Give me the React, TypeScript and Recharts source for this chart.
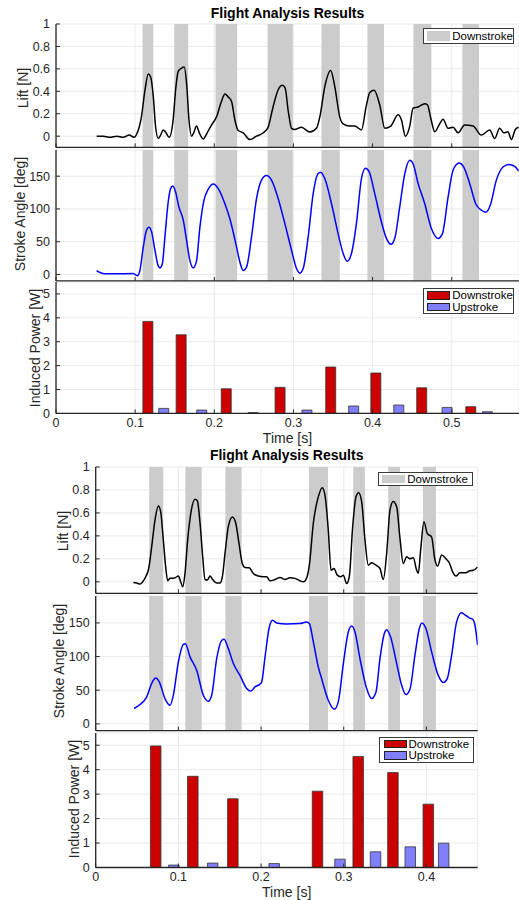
import React from 'react';
import { ComposedChart, Line, Bar, XAxis, YAxis, CartesianGrid, ReferenceArea } from 'recharts';

// ---------- Figure 1 data ----------
const f1LiftTime = [
  0.0514, 0.0598, 0.068, 0.077, 0.085, 0.0926, 0.0985, 0.1027, 0.108, 0.1124,
  0.1166, 0.1195, 0.1229, 0.1258, 0.1292, 0.1322, 0.1355, 0.139, 0.143, 0.148,
  0.1515, 0.1544, 0.1587, 0.162, 0.165, 0.168, 0.1713, 0.174, 0.1776, 0.181,
  0.186, 0.191, 0.1966, 0.203, 0.209, 0.2134, 0.2176, 0.2218, 0.226, 0.2302,
  0.2365, 0.245, 0.2534, 0.262, 0.268, 0.2744, 0.2807, 0.286, 0.2895, 0.2935,
  0.2976, 0.3015, 0.31, 0.3207, 0.329, 0.3333, 0.3396, 0.347, 0.3523, 0.3586,
  0.3628, 0.3712, 0.3775, 0.386, 0.3919, 0.3965, 0.4019, 0.409, 0.4154, 0.423,
  0.4322, 0.4364, 0.4415, 0.447, 0.4512, 0.4575, 0.466, 0.4693, 0.474, 0.4785,
  0.4848, 0.489, 0.4954, 0.5017, 0.508, 0.5164, 0.527, 0.5375, 0.548, 0.5543,
  0.5606, 0.566, 0.5711, 0.5754, 0.5804, 0.5845,
];
const f1Lift = [
  0, 0, -0.01, 0, -0.01, 0.01, -0.01, 0.03, 0.175, 0.41,
  0.555, 0.53, 0.354, 0.086, -0.02, 0.01, 0.056, 0.03, -0.01, 0.145,
  0.44, 0.577, 0.607, 0.616, 0.47, 0.146, 0, 0.03, 0.09, 0.03,
  -0.025, 0.03, 0.1, 0.175, 0.31, 0.377, 0.35, 0.31, 0.146, 0.05,
  0.03, -0.03, 0, 0.03, 0.08, 0.265, 0.414, 0.455, 0.43, 0.22,
  0.07, 0.06, 0.08, 0.037, 0.07, 0.17, 0.44, 0.585, 0.44, 0.17,
  0.11, 0.09, 0.09, 0.056, 0.265, 0.39, 0.41, 0.28, 0.07, 0.09,
  0.19, 0.146, 0.0, 0.09, 0.25, 0.26, 0.29, 0.28, 0.146, 0.04,
  0.11, 0.15, 0.07, 0.08, 0.03, 0.1, 0.09, 0.01, 0.056, -0.02,
  0.07, 0.03, 0.04, -0.03, 0.06, 0.08,
];
const f1AngleTime = [
  0.0513, 0.0556, 0.0619, 0.0766, 0.0976, 0.0997, 0.1031, 0.106, 0.1103, 0.1145,
  0.1174, 0.1208, 0.125, 0.1284, 0.1313, 0.1343, 0.1376, 0.1418, 0.1448, 0.1477,
  0.1511, 0.1553, 0.1608, 0.165, 0.1692, 0.1734, 0.1776, 0.1818, 0.1869, 0.1923,
  0.1987, 0.205, 0.2134, 0.2197, 0.2281, 0.2323, 0.2365, 0.2407, 0.247, 0.2534,
  0.2597, 0.266, 0.2723, 0.2807, 0.2891, 0.2976, 0.3039, 0.3081, 0.3123, 0.3186,
  0.3249, 0.3312, 0.3342, 0.3397, 0.3481, 0.3565, 0.3628, 0.3679, 0.3733, 0.3796,
  0.3859, 0.391, 0.3956, 0.4028, 0.4112, 0.4175, 0.423, 0.428, 0.4343, 0.4407,
  0.447, 0.4512, 0.4575, 0.4659, 0.4743, 0.4827, 0.4882, 0.4954, 0.5017, 0.5093,
  0.5152, 0.5227, 0.5303, 0.5375, 0.543, 0.5488, 0.5564, 0.5648, 0.5724, 0.5795,
  0.5846,
];
const f1Angle = [
  6, 3, 1, 1, 1.5, 0, -2, 6, 42, 68,
  72, 65, 37, 16, 10, 16, 57, 111, 131, 135,
  126, 103, 83, 52, 21, 10, 21, 72, 113, 130,
  138, 131, 108, 85, 42, 19, 6, 11, 57, 116,
  144, 151, 144, 116, 78, 37, 9, 2, 9, 57,
  123, 154, 156, 146, 108, 62, 32, 20, 32, 78,
  146, 162, 157, 123, 80, 55, 46, 55, 103, 154,
  174.5, 169, 139, 108, 70, 55, 62, 118, 159, 170,
  164, 139, 108, 98, 95, 106, 144, 164, 168, 165,
  158,
];
const f1BandStart = [0.1094, 0.1494, 0.2016, 0.2673, 0.3354, 0.3935, 0.4516, 0.5135];
const f1BandEnd = [0.1229, 0.167, 0.2289, 0.2992, 0.3586, 0.4145, 0.4743, 0.5345];
const f1DownTime = [0.116, 0.158, 0.215, 0.283, 0.347, 0.404, 0.462, 0.524];
const f1DownPower = [3.85, 3.29, 1.03, 1.09, 1.94, 1.69, 1.07, 0.28];
const f1UpTime = [0.136, 0.184, 0.249, 0.317, 0.376, 0.433, 0.494, 0.545];
const f1UpPower = [0.21, 0.14, 0.035, 0.14, 0.31, 0.35, 0.25, 0.07];
const f1XTicks = [0, 0.1, 0.2, 0.3, 0.4, 0.5];

// ---------- Figure 2 data ----------
const f2LiftTime = [
  0.0455, 0.0496, 0.0536, 0.0568, 0.0605, 0.0641, 0.0677, 0.0717, 0.0758, 0.0786,
  0.0818, 0.0846, 0.0871, 0.0899, 0.0931, 0.0959, 0.1, 0.1028, 0.1052, 0.108,
  0.1112, 0.1153, 0.1201, 0.1229, 0.1262, 0.1294, 0.1322, 0.135, 0.1383, 0.1415,
  0.1463, 0.1503, 0.1532, 0.1564, 0.1604, 0.1653, 0.1693, 0.1733, 0.1773, 0.1806,
  0.1858, 0.1906, 0.1967, 0.2027, 0.2068, 0.2108, 0.2168, 0.2229, 0.2289, 0.235,
  0.241, 0.2471, 0.2511, 0.2543, 0.2584, 0.2632, 0.2692, 0.2741, 0.2773, 0.2813,
  0.2846, 0.2882, 0.2922, 0.2962, 0.2995, 0.3035, 0.3067, 0.3108, 0.3148, 0.318,
  0.3216, 0.3257, 0.3297, 0.3337, 0.339, 0.3438, 0.3478, 0.3519, 0.3559, 0.3599,
  0.364, 0.368, 0.372, 0.3761, 0.3801, 0.3841, 0.3882, 0.3902, 0.393, 0.397,
  0.4011, 0.4063, 0.4103, 0.4135, 0.4184, 0.4236, 0.4276, 0.4317, 0.4357, 0.4405,
  0.4466, 0.4526, 0.4567, 0.4619,
];
const f2Lift = [
  -0.006, -0.01, -0.02, 0, 0.044, 0.116, 0.305, 0.538, 0.66, 0.61,
  0.363, 0.13, 0.01, 0.03, 0.03, 0.035, 0.05, 0, -0.044, 0.073,
  0.363, 0.61, 0.72, 0.706, 0.51, 0.22, 0.02, 0.015, 0.05, 0.02,
  -0.01, -0.01, 0.044, 0.247, 0.48, 0.565, 0.515, 0.334, 0.16, 0.125,
  0.122, 0.073, 0.05, 0.044, 0.044, 0.009, 0.02, 0.038, 0.02, 0.035,
  0.03, 0.009, 0, 0.02, 0.145, 0.51, 0.74, 0.82, 0.756, 0.45,
  0.1, 0.116, 0.058, 0.044, 0.058, -0.015, 0.044, 0.48, 0.74, 0.776,
  0.7, 0.363, 0.145, 0.166, 0.145, 0.116, 0.02, 0.247, 0.625, 0.7,
  0.654, 0.378, 0.16, 0.218, 0.2, 0.21, 0.1, 0.073, 0.276, 0.523,
  0.42, 0.39, 0.19, 0.137, 0.233, 0.2, 0.166, 0.087, 0.05, 0.078,
  0.078, 0.096, 0.1, 0.13,
];
const f2AngleTime = [
  0.0464, 0.0536, 0.0617, 0.0677, 0.0726, 0.077, 0.0838, 0.0899, 0.0939, 0.1,
  0.106, 0.1084, 0.1141, 0.1221, 0.1302, 0.1362, 0.1403, 0.1463, 0.1524, 0.1552,
  0.1604, 0.1665, 0.1745, 0.1826, 0.1874, 0.1927, 0.1979, 0.2007, 0.2048, 0.21,
  0.214, 0.2189, 0.231, 0.2471, 0.2551, 0.2584, 0.2632, 0.2692, 0.2733, 0.2813,
  0.2886, 0.2934, 0.2995, 0.3055, 0.3096, 0.3136, 0.3196, 0.3277, 0.3337, 0.339,
  0.3438, 0.349, 0.3519, 0.3567, 0.364, 0.37, 0.3752, 0.3801, 0.3861, 0.3914,
  0.3946, 0.3994, 0.4063, 0.4143, 0.4204, 0.4252, 0.4305, 0.4365, 0.4425, 0.4466,
  0.4518, 0.4559, 0.4587, 0.4619,
];
const f2Angle = [
  22.8, 28.7, 40, 60, 68, 62, 37.6, 27.7, 42.6, 92,
  118, 119, 99.5, 79.7, 42.6, 33.7, 42.6, 97, 124, 125.7,
  112, 89.6, 72, 52.5, 48.5, 55, 58.4, 62, 99.5, 144,
  154, 150, 148.5, 149, 151.5, 149, 122, 84.6, 67, 35,
  21.8, 32.7, 89.6, 136.6, 145.5, 136.6, 97, 52.5, 37.6, 47.5,
  97, 134, 140, 129, 89.6, 57.4, 43.6, 51.5, 102, 141.6,
  150, 141.6, 107, 72, 61.4, 67.3, 102, 151.5, 165, 162,
  157.4, 155.4, 146.5, 117,
];
const f2BandStart = [0.0648, 0.1084, 0.1568, 0.2579, 0.3115, 0.3538, 0.3958];
const f2BandEnd = [0.0817, 0.1282, 0.1765, 0.2809, 0.3256, 0.368, 0.4115];
const f2DownTime = [0.0731, 0.118, 0.1664, 0.2688, 0.318, 0.36, 0.4028];
const f2DownPower = [4.97, 3.73, 2.81, 3.12, 4.54, 3.88, 2.59];
const f2UpTime = [0.095, 0.142, 0.2164, 0.296, 0.339, 0.381, 0.4214];
const f2UpPower = [0.1, 0.18, 0.16, 0.34, 0.64, 0.845, 0.995];
const f2XTicks = [0, 0.1, 0.2, 0.3, 0.4];

const liftTicks = [0, 0.2, 0.4, 0.6, 0.8, 1];
const angleTicks = [0, 50, 100, 150];
const powerTicks = [0, 1, 2, 3, 4, 5];

// ---------- styling ----------
const W = 519;
const FONT = '"Liberation Sans", Arial, Helvetica, sans-serif';
const AX = '#262626';
const GRID = '#e4e4e4';
const BAND = '#cccccc';
const RED = '#cc0000';
const BLUE = '#8080ff';
const PAD_T = 10;
const PAD_B = 30;

type PanelProps = {
  top: number;
  bottom: number;
  plotLeft: number;
  plotRight: number;
  xMax: number;
  xTicks: number[];
  yDomain: [number, number];
  yTicks: number[];
  showX: boolean;
  data: any[];
  children: React.ReactNode;
};

function Panel({ top, bottom, plotLeft, plotRight, xMax, xTicks, yDomain, yTicks, showX, data, children }: PanelProps) {
  const h = bottom - top;
  return (
    <div style={{ position: 'absolute', left: 0, top: top - PAD_T }}>
      <ComposedChart
        width={W}
        height={h + PAD_T + PAD_B}
        data={data}
        margin={{ top: PAD_T, right: W - plotRight, bottom: 0, left: 0 }}
      >
        <CartesianGrid stroke={GRID} strokeWidth={0.8} />
        {children}
        <XAxis
          type="number"
          dataKey="t"
          domain={[0, xMax]}
          allowDataOverflow
          ticks={xTicks}
          interval={0}
          height={PAD_B}
          axisLine={{ stroke: AX, strokeWidth: 1.3 }}
          tickLine={{ stroke: AX, strokeWidth: 1 }}
          tickSize={-4}
          tickMargin={9}
          tickFormatter={(v: number) => (showX ? String(v) : '')}
          tick={{ fill: AX, fontSize: 12.5, fontFamily: FONT }}
        />
        <YAxis
          type="number"
          domain={yDomain}
          allowDataOverflow
          ticks={yTicks}
          interval={0}
          width={plotLeft}
          axisLine={{ stroke: AX, strokeWidth: 1.3 }}
          tickLine={{ stroke: AX, strokeWidth: 1 }}
          tickSize={-4}
          tickMargin={10}
          tick={{ fill: AX, fontSize: 12.5, fontFamily: FONT }}
        />
      </ComposedChart>
    </div>
  );
}

function bands(starts: number[], ends: number[]) {
  return starts.map((s, i) => (
    <ReferenceArea key={'b' + i} x1={s} x2={ends[i]} fill={BAND} fillOpacity={1} stroke="none" ifOverflow="hidden" />
  ));
}

function lineData(times: number[], values: number[]) {
  return times.map((t, i) => ({ t, v: values[i] }));
}

function powerData(dt: number[], dv: number[], ut: number[], uv: number[]) {
  const rows = [
    ...dt.map((t, i) => ({ t, down: dv[i], up: 0 })),
    ...ut.map((t, i) => ({ t, down: 0, up: uv[i] })),
  ];
  return rows.sort((a, b) => a.t - b.t);
}

function Txt({ x, y, text, size = 14, bold = false, rotate = false, color = AX }: any) {
  return (
    <div
      style={{
        position: 'absolute',
        left: x,
        top: y,
        transform: `translate(-50%, -50%)${rotate ? ' rotate(-90deg)' : ''}`,
        whiteSpace: 'nowrap',
        fontSize: size,
        fontWeight: bold ? 700 : 400,
        fontFamily: FONT,
        color,
        lineHeight: 1,
      }}
    >
      {text}
    </div>
  );
}

type LegendItem = { label: string; color: string; edge: string };

function LegendBox({ x, y, w, h, items, patchW }: { x: number; y: number; w: number; h: number; items: LegendItem[]; patchW: number }) {
  const rowH = (h - 3) / items.length;
  const fs = 11.5;
  return (
    <div
      style={{
        position: 'absolute',
        left: x,
        top: y,
        width: w,
        height: h,
        boxSizing: 'border-box',
        border: '1px solid #3a3a3a',
        background: '#fff',
        fontFamily: FONT,
        color: '#000',
      }}
    >
      {items.map((it, i) => (
        <div
          key={it.label}
          style={{ position: 'absolute', left: 3.5, top: 0.5 + i * rowH, height: rowH, display: 'flex', alignItems: 'center' }}
        >
          <div style={{ width: patchW, height: rowH - 3, background: it.color, border: `1px solid ${it.edge}`, boxSizing: 'border-box' }} />
          <div style={{ marginLeft: 2, fontSize: fs, lineHeight: `${fs - 1}px`, height: fs - 1, whiteSpace: 'nowrap' }}>{it.label}</div>
        </div>
      ))}
    </div>
  );
}

type FigProps = {
  titleY: number;
  plotLeft: number;
  plotRight: number;
  xMax: number;
  xTicks: number[];
  p1: [number, number];
  p2: [number, number];
  p3: [number, number];
  liftTime: number[];
  lift: number[];
  angleTime: number[];
  angle: number[];
  bandStart: number[];
  bandEnd: number[];
  downTime: number[];
  downPower: number[];
  upTime: number[];
  upPower: number[];
  barSize: number;
  labelX: [number, number, number];
  labelY: [number, number, number];
  timeY: number;
  legend1: [number, number, number, number];
  legend3: [number, number, number, number];
};

function Figure(f: FigProps) {
  const cx = (f.plotLeft + f.plotRight) / 2;
  return (
    <>
      <Panel top={f.p1[0]} bottom={f.p1[1]} plotLeft={f.plotLeft} plotRight={f.plotRight} xMax={f.xMax} xTicks={f.xTicks}
        yDomain={[-0.1, 1]} yTicks={liftTicks} showX={false} data={lineData(f.liftTime, f.lift)}>
        {bands(f.bandStart, f.bandEnd)}
        <Line type="monotone" dataKey="v" stroke="#000" strokeWidth={1.5} dot={false} isAnimationActive={false} />
      </Panel>
      <Panel top={f.p2[0]} bottom={f.p2[1]} plotLeft={f.plotLeft} plotRight={f.plotRight} xMax={f.xMax} xTicks={f.xTicks}
        yDomain={[-10, 190]} yTicks={angleTicks} showX={false} data={lineData(f.angleTime, f.angle)}>
        {bands(f.bandStart, f.bandEnd)}
        <Line type="monotone" dataKey="v" stroke="#0000ff" strokeWidth={1.5} dot={false} isAnimationActive={false} />
      </Panel>
      <Panel top={f.p3[0]} bottom={f.p3[1]} plotLeft={f.plotLeft} plotRight={f.plotRight} xMax={f.xMax} xTicks={f.xTicks}
        yDomain={[0, 5.5]} yTicks={powerTicks} showX={true} data={powerData(f.downTime, f.downPower, f.upTime, f.upPower)}>
        <Bar dataKey="down" stackId="p" barSize={f.barSize} fill={RED} stroke="#333" strokeWidth={0.8} isAnimationActive={false} />
        <Bar dataKey="up" stackId="p" barSize={f.barSize} fill={BLUE} stroke="#333" strokeWidth={0.8} isAnimationActive={false} />
      </Panel>
      <Txt x={cx} y={f.titleY} text="Flight Analysis Results" bold size={14} color="#000" />
      <Txt x={f.labelX[0]} y={f.labelY[0]} text="Lift [N]" rotate />
      <Txt x={f.labelX[1]} y={f.labelY[1]} text="Stroke Angle [deg]" rotate />
      <Txt x={f.labelX[2]} y={f.labelY[2]} text="Induced Power [W]" rotate />
      <Txt x={cx} y={f.timeY} text="Time [s]" />
      <LegendBox x={f.legend1[0]} y={f.legend1[1]} w={f.legend1[2]} h={f.legend1[3]} patchW={23}
        items={[{ label: 'Downstroke', color: BAND, edge: BAND }]} />
      <LegendBox x={f.legend3[0]} y={f.legend3[1]} w={f.legend3[2]} h={f.legend3[3]} patchW={23}
        items={[
          { label: 'Downstroke', color: RED, edge: '#222' },
          { label: 'Upstroke', color: BLUE, edge: '#222' },
        ]} />
    </>
  );
}

export default function App() {
  return (
    <div style={{ position: 'absolute', left: 0, top: 0, width: W, height: 900, background: '#fff', overflow: 'hidden' }}>
      <Figure
        titleY={13.3}
        plotLeft={56}
        plotRight={519}
        xMax={0.585}
        xTicks={f1XTicks}
        p1={[24.3, 147.7]}
        p2={[150, 281]}
        p3={[282.3, 413.7]}
        liftTime={f1LiftTime}
        lift={f1Lift}
        angleTime={f1AngleTime}
        angle={f1Angle}
        bandStart={f1BandStart}
        bandEnd={f1BandEnd}
        downTime={f1DownTime}
        downPower={f1DownPower}
        upTime={f1UpTime}
        upPower={f1UpPower}
        barSize={10}
        labelX={[23.3, 19.7, 35]}
        labelY={[88, 214, 347.5]}
        timeY={438}
        legend1={[422.7, 28.3, 91, 15.5]}
        legend3={[422.7, 288.3, 91, 26]}
      />
      <Figure
        titleY={455.3}
        plotLeft={95.7}
        plotRight={477.7}
        xMax={0.462}
        xTicks={f2XTicks}
        p1={[467, 593.3]}
        p2={[595.8, 730.4]}
        p3={[732.8, 867.3]}
        liftTime={f2LiftTime}
        lift={f2Lift}
        angleTime={f2AngleTime}
        angle={f2Angle}
        bandStart={f2BandStart}
        bandEnd={f2BandEnd}
        downTime={f2DownTime}
        downPower={f2DownPower}
        upTime={f2UpTime}
        upPower={f2UpPower}
        barSize={10.5}
        labelX={[62.5, 58.7, 74.2]}
        labelY={[530.5, 661, 799]}
        timeY={891.5}
        legend1={[377.7, 472.3, 95, 14]}
        legend3={[379, 736.7, 95, 26]}
      />
    </div>
  );
}
